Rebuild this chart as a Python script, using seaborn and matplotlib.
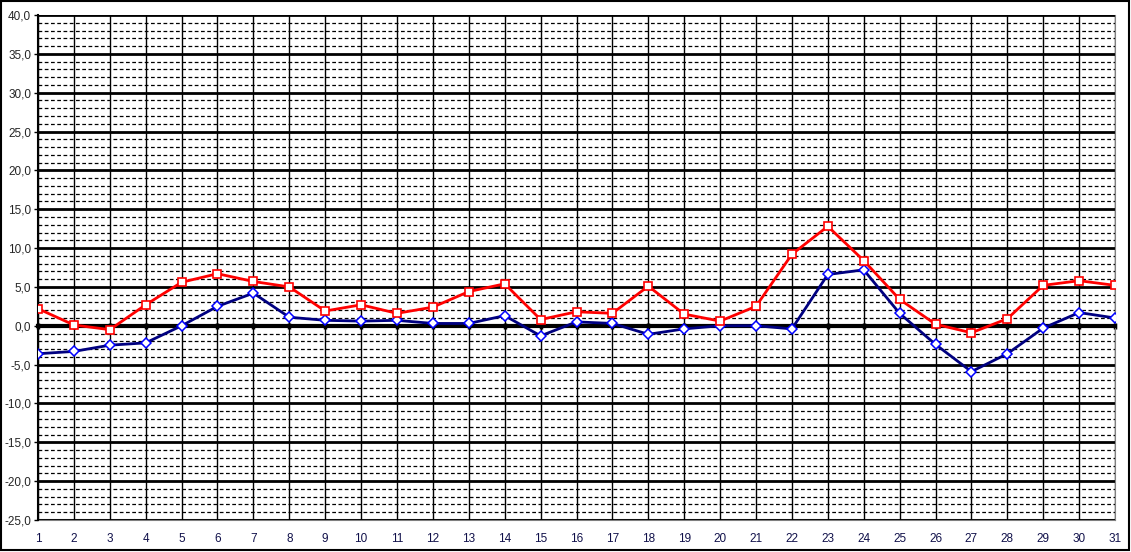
import numpy as np
import pandas as pd
import matplotlib
matplotlib.use('Agg')
import matplotlib.pyplot as plt
import seaborn as sns
from matplotlib.ticker import MultipleLocator, FuncFormatter

# data (day of month, max / min temperature)
days = list(range(1, 32))
t_max = [2.2, 0.1, -0.5, 2.7, 5.6, 6.7, 5.7, 5.0, 1.9, 2.7,
         1.6, 2.4, 4.4, 5.4, 0.8, 1.8, 1.6, 5.1, 1.5, 0.6,
         2.5, 9.2, 12.8, 8.4, 3.4, 0.2, -0.9, 0.9, 5.2, 5.8, 5.2]
t_min = [-3.6, -3.3, -2.5, -2.2, 0.0, 2.5, 4.2, 1.1, 0.7, 0.6,
         0.7, 0.3, 0.3, 1.3, -1.3, 0.5, 0.3, -1.1, -0.4, 0.0,
         0.0, -0.4, 6.6, 7.2, 1.6, -2.4, -5.9, -3.6, -0.3, 1.7, 1.0]

df = pd.DataFrame({'day': days, 'max': t_max, 'min': t_min})

sns.set_style('white')
plt.rcParams['font.family'] = ['Liberation Sans', 'DejaVu Sans']

fig = plt.figure(figsize=(11.31, 5.52), dpi=100)
ax = fig.add_axes([38 / 1131, 1 - 520 / 552, (1115 - 38) / 1131, (520 - 15) / 552])

# grid: dashed every 1, solid every 5, vertical at each day
ax.set_xlim(1, 31)
ax.set_ylim(-25, 40)
ax.yaxis.set_major_locator(MultipleLocator(5))
ax.yaxis.set_minor_locator(MultipleLocator(1))
ax.xaxis.set_major_locator(MultipleLocator(1))
ax.grid(which='minor', axis='y', color='black', lw=0.9, ls=(0, (3, 2)))
ax.grid(which='major', axis='y', color='black', lw=2, ls='-')
ax.grid(which='major', axis='x', color='black', lw=1, ls='-')
ax.set_axisbelow(True)

# series
sns.lineplot(data=df, x='day', y='max', ax=ax, color='#ff0000', lw=2,
             marker='s', markersize=6, markerfacecolor='white',
             markeredgecolor='#ff0000', markeredgewidth=1.2, zorder=4)
sns.lineplot(data=df, x='day', y='min', ax=ax, color='#000080', lw=2,
             marker='D', markersize=4.8, markerfacecolor='white',
             markeredgecolor='#0000ff', markeredgewidth=1.1, zorder=3)

# category axis crossing at zero, with crossing tick marks
ax.spines['bottom'].set_position(('data', 0))
ax.spines['bottom'].set_linewidth(3)
ax.spines['bottom'].set_color('black')
ax.spines['bottom'].set_zorder(2.5)
ax.tick_params(axis='x', which='major', bottom=True, direction='inout',
               length=5, width=2.5, color='black', labelbottom=False)
ax.tick_params(axis='x', which='minor', length=0)

ax.spines['left'].set_color('black')
ax.spines['left'].set_linewidth(1.5)
ax.spines['right'].set_color('#808080')
ax.spines['top'].set_visible(False)
ax.tick_params(axis='y', which='major', left=True, direction='out', length=3,
               width=1, color='black', labelsize=8.5, pad=2)
ax.tick_params(axis='y', which='minor', length=0)
ax.yaxis.set_major_formatter(FuncFormatter(lambda v, p: f'{v:.1f}'.replace('.', ',')))

# day labels at the bottom of the plot area
sec = ax.secondary_xaxis(0)
sec.set_xticks(days)
sec.set_xticklabels([str(d) for d in days])
sec.tick_params(length=0, labelsize=8.5, pad=9, labelcolor='#10104a')
sec.spines['bottom'].set_color('#808080')
sec.spines['bottom'].set_linewidth(1.5)

ax.set_xlabel('')
ax.set_ylabel('')

# outer frame
fig.patches.append(plt.Rectangle((0.001, 0.003), 0.997, 0.995, transform=fig.transFigure,
                                 fill=False, edgecolor='black', lw=1.5))

fig.savefig('out.png', dpi=100)
